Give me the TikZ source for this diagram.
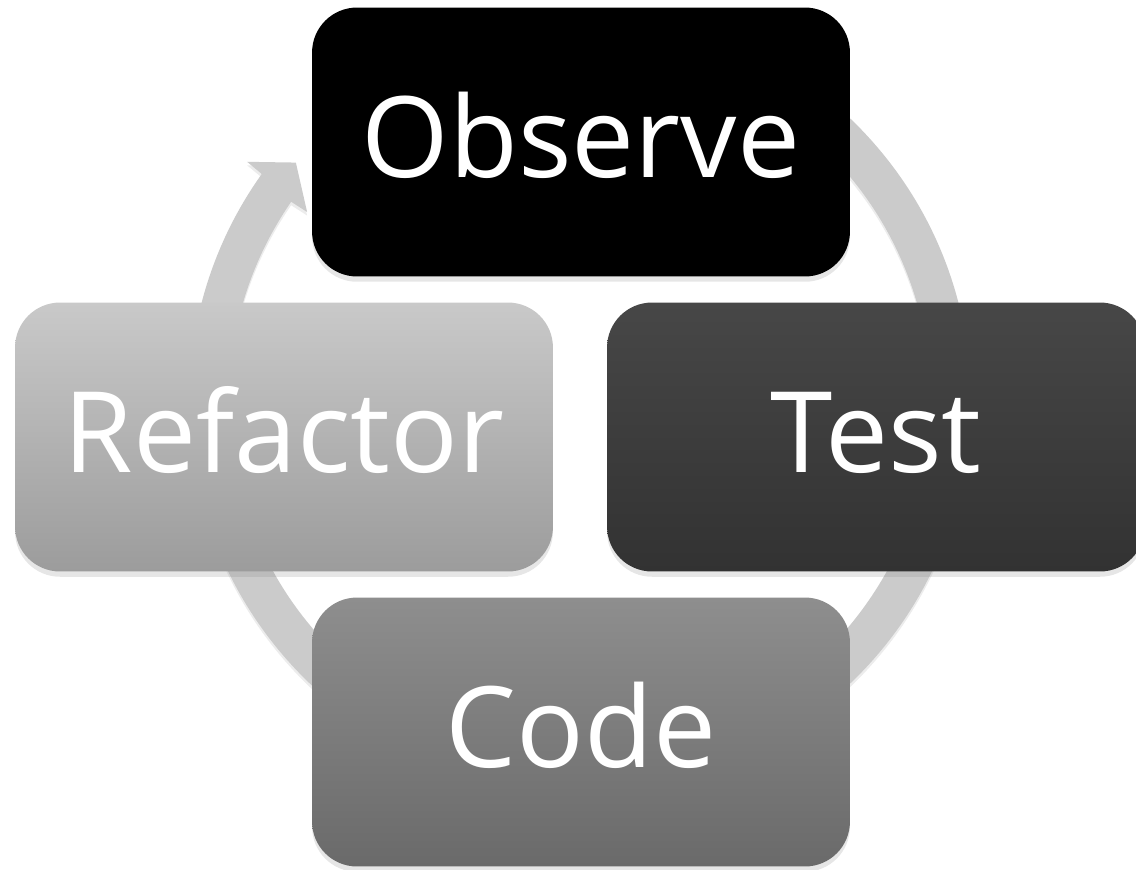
\documentclass[tikz,border=0pt]{standalone}
\usepackage{fontspec}
\setmainfont{Open Sans}
\usepackage{tikz}
\usetikzlibrary{calc}
\usetikzlibrary{shadows}

\definecolor{ringgray}{HTML}{CBCBCB}
\definecolor{testtop}{HTML}{474747}
\definecolor{testbottom}{HTML}{323232}
\definecolor{codetop}{HTML}{8E8E8E}
\definecolor{codebottom}{HTML}{6A6A6A}
\definecolor{refactortop}{HTML}{C9C9C9}
\definecolor{refactorbottom}{HTML}{9C9C9C}

\begin{document}
\begin{tikzpicture}[x=0.02cm, y=-0.02cm,
        box_style/.style={rectangle, rounded corners=0.9cm, minimum width=10.76cm, minimum height=5.38cm,
            inner sep=0pt, text=white, font=\fontsize{64}{76}\selectfont, text height=45pt, text depth=5pt,
            drop shadow={shadow xshift=0pt, shadow yshift=-3pt, opacity=0.2}},
        ring_style/.style={fill=ringgray,
            drop shadow={shadow xshift=0pt, shadow yshift=-2pt, opacity=0.15}}]

        \useasboundingbox (0,0) rectangle (1136,869);

        \coordinate (hub) at (580,401);

        % circular arrow behind the boxes
        \fill [ring_style] ($(hub)+(132:7.82cm)$) arc[start angle=132, end angle=-215.5, radius=7.82cm]
            -- ($(hub)+(144.3:8.2cm)$) -- ($(hub)+(140:7.42cm)$) -- ($(hub)+(145.3:6.64cm)$)
            -- ($(hub)+(-214.6:7.02cm)$) arc[start angle=-214.6, end angle=132, radius=7.02cm] -- cycle;

        \node [box_style, fill=black] (observe) at (581,142) {Observe};

        \node [box_style, top color=testtop, bottom color=testbottom] (test) at (876,437) {Test};

        \node [box_style, top color=codetop, bottom color=codebottom] (code) at (581,732) {Code};

        \node [box_style, top color=refactortop, bottom color=refactorbottom] (refactor) at (284,437) {Refactor};

        \end{tikzpicture}
\end{document}
